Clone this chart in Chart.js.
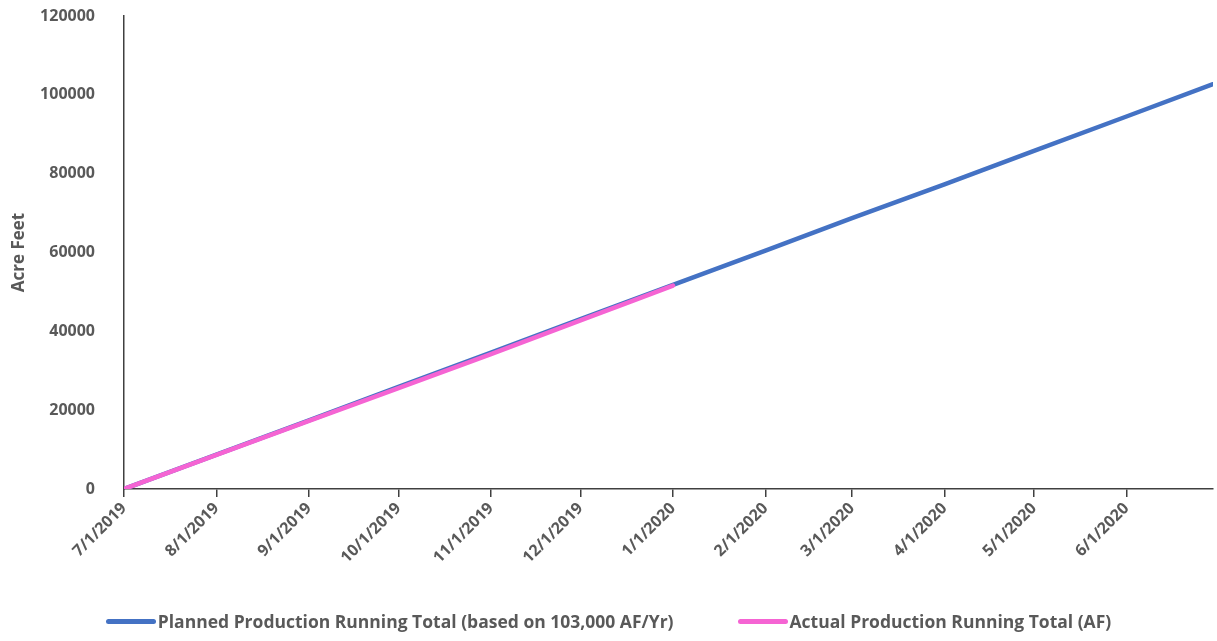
<!DOCTYPE html>
<html>
<head>
<meta charset="utf-8">
<script src="https://cdn.jsdelivr.net/npm/chart.js@4.4.1/dist/chart.umd.min.js"></script>
<style>
  html, body { margin: 0; padding: 0; background: #fff; }
  #wrap { position: relative; width: 1217px; height: 641px; }
  #legend { position: absolute; left: 0; top: 609px; width: 1217px; display: flex; justify-content: center; gap: 64px;
    font: bold 17.5px "Open Sans", sans-serif; color: #595959; }
  #legend .item { display: flex; align-items: center; }
  #legend .swatch { width: 50px; height: 5px; border-radius: 3px; margin-right: 2px; }
</style>
</head>
<body>
<div id="wrap">
  <canvas id="c" width="1217" height="641"></canvas>
  <div id="legend"></div>
</div>
<script>
// Days counted from 7/1/2019; month labels sit on the first of each month.
const tickDays = [0, 31, 62, 92, 123, 153, 184, 215, 244, 275, 305, 336];
const tickLabels = ['7/1/2019', '8/1/2019', '9/1/2019', '10/1/2019', '11/1/2019', '12/1/2019',
  '1/1/2020', '2/1/2020', '3/1/2020', '4/1/2020', '5/1/2020', '6/1/2020'];

// Planned running total (read at each month start, last point 6/30/2020)
const plannedDays = [0, 31, 62, 92, 123, 153, 184, 215, 244, 275, 305, 336, 365];
const plannedValues = [0, 8700, 17400, 25900, 34600, 43100, 51800, 60500, 68700, 77300, 85800, 94500, 102700];

// Actual running total, through 1/1/2020
const actualDays = [0, 31, 62, 92, 123, 153, 170, 184];
const actualValues = [0, 8650, 17300, 25600, 34200, 42800, 47600, 51600];

const seriesNames = ['Planned Production Running Total (based on 103,000 AF/Yr)', 'Actual Production Running Total (AF)'];
const seriesColors = ['#4472C4', '#F564D3'];

const FONT = '"Open Sans", sans-serif';
const TXT = '#595959';

const pts = (xs, ys) => xs.map((x, i) => ({ x, y: ys[i] }));

new Chart(document.getElementById('c'), {
  type: 'line',
  data: {
    datasets: [
      { label: seriesNames[0], data: pts(plannedDays, plannedValues), borderColor: seriesColors[0], borderWidth: 4.5, order: 2 },
      { label: seriesNames[1], data: pts(actualDays, actualValues), borderColor: seriesColors[1], borderWidth: 4.5, order: 1 },
    ],
  },
  options: {
    responsive: false, animation: false,
    layout: { padding: { top: 0, right: 4, left: 0, bottom: 0 } },
    elements: { point: { radius: 0 }, line: { tension: 0, borderCapStyle: 'round' } },
    plugins: { legend: { display: false }, tooltip: { enabled: false } },
    scales: {
      x: {
        type: 'linear', min: 0, max: 365,
        afterFit: (s) => { s.height = 152; },
        afterBuildTicks: (s) => { s.ticks = tickDays.map((v) => ({ value: v })); },
        grid: { display: true, drawOnChartArea: false, drawTicks: true, tickLength: 8, color: '#404040', lineWidth: 1.5 },
        border: { display: true, color: '#404040', width: 1.5 },
        ticks: {
          autoSkip: false, minRotation: 45, maxRotation: 45, padding: 2,
          color: TXT, font: { family: FONT, size: 16, weight: 'bold' },
          callback: (v) => tickLabels[tickDays.indexOf(v)],
        },
      },
      y: {
        min: 0, max: 120000,
        afterFit: (s) => { s.width = 124; s.paddingTop = 16; },
        grid: { display: false },
        border: { display: true, color: '#404040', width: 1.5 },
        ticks: { stepSize: 20000, padding: 21, color: TXT, font: { family: FONT, size: 16, weight: 'bold' }, callback: (v) => String(v) },
        title: { display: true, text: 'Acre Feet', color: TXT, padding: { top: 9, bottom: 6 }, font: { family: FONT, size: 17, weight: 'bold' } },
      },
    },
  },
});

// legend below the plot
const leg = document.getElementById('legend');
seriesNames.forEach((n, i) => {
  const it = document.createElement('div');
  it.className = 'item';
  it.innerHTML = '<span class="swatch" style="background:' + seriesColors[i] + '"></span><span>' + n + '</span>';
  leg.appendChild(it);
});
</script>
</body>
</html>
